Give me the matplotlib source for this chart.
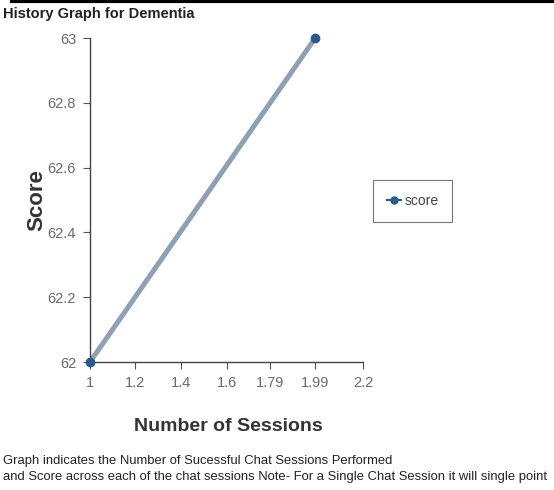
import matplotlib.pyplot as plt
from matplotlib.lines import Line2D

# data
sessions = [1, 1.99]
scores = [62, 63]
x_ticks = [1, 1.2, 1.4, 1.6, 1.79, 1.99, 2.2]
x_labels = ['1', '1.2', '1.4', '1.6', '1.79', '1.99', '2.2']
y_ticks = [62, 62.2, 62.4, 62.6, 62.8, 63]
y_labels = ['62', '62.2', '62.4', '62.6', '62.8', '63']

plt.rcParams['font.family'] = ['Liberation Sans', 'DejaVu Sans']

fig = plt.figure(figsize=(5.54, 4.90), dpi=100)
ax = fig.add_axes([90 / 554, 1 - 362 / 490, 273 / 554, 324 / 490])

# thick greyish line under the dark markers
ax.plot(sessions, scores, color='#8ea0b4', linewidth=3.6, solid_capstyle='round', zorder=2)
ax.plot(sessions, scores, color='#2b5a8e', linewidth=0, marker='o', markersize=6,
        clip_on=False, zorder=3)

ax.set_xlim(1, 2.2)
ax.set_ylim(62, 63)
ax.set_xticks(x_ticks)
ax.set_xticklabels(x_labels, fontsize=10.5, color='#6a6a6a')
ax.set_yticks(y_ticks)
ax.set_yticklabels(y_labels, fontsize=10.5, color='#6a6a6a')
ax.tick_params(axis='both', direction='out', length=5, width=0.8, color='#555555', pad=5)

for s in ['top', 'right']:
    ax.spines[s].set_visible(False)
for s in ['left', 'bottom']:
    ax.spines[s].set_color('#444444')
    ax.spines[s].set_linewidth(1)

ax.set_ylabel('Score', fontsize=16, fontweight='bold', color='#333333')
ax.yaxis.set_label_coords(-43 / 273, 0.5)
ax.set_xlabel('Number of Sessions', fontsize=14, fontweight='bold', color='#333333')
ax.xaxis.set_label_coords(138 / 273, -56 / 324)

handle = Line2D([0], [0], color='#2b5a8e', marker='o', markersize=5, linewidth=1.5)
leg = fig.legend([handle], ['score'], loc='center left', bbox_to_anchor=(373 / 554, 1 - 201 / 490),
                 frameon=True, fancybox=False, handlelength=1.0, handletextpad=0.25,
                 prop={'size': 10}, borderpad=1.0, borderaxespad=0)
leg.get_frame().set_edgecolor('#555555')
leg.get_frame().set_linewidth(0.8)
for t in leg.get_texts():
    t.set_color('#444444')

fig.text(0.006, 1 - 14 / 490, 'History Graph for Dementia', fontsize=10.5, fontweight='bold',
         color='#222222', va='center')
fig.text(0.006, 1 - 461 / 490, 'Graph indicates the Number of Sucessful Chat Sessions Performed',
         fontsize=9.4, color='#222222', va='center')
fig.text(0.006, 1 - 477 / 490,
         'and Score across each of the chat sessions Note- For a Single Chat Session it will single point',
         fontsize=9.4, color='#222222', va='center')

# black rule along the top edge
fig.add_artist(Line2D([12 / 554, 1], [0.997, 0.997], color='black', linewidth=3))

fig.savefig('out.png', dpi=100)
